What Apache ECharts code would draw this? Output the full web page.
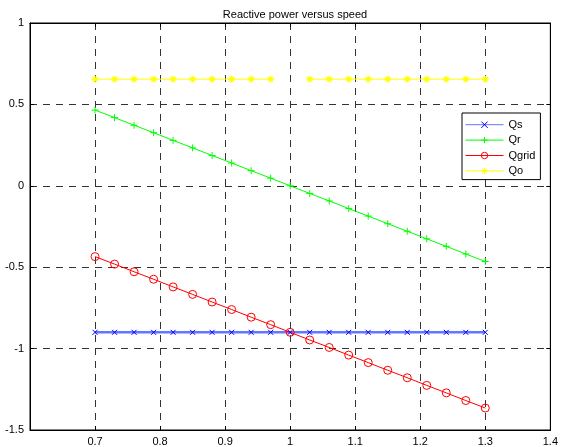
<!DOCTYPE html>
<html><head><meta charset="utf-8">
<script src="https://cdn.jsdelivr.net/npm/echarts@6/dist/echarts.min.js"></script>
<style>html,body{margin:0;padding:0;background:#fff}#c{width:561px;height:447px}</style>
</head><body><div id="c"></div>
<script>
var speeds = [0.7,0.73,0.76,0.79,0.82,0.85,0.88,0.91,0.94,0.97,1.0,1.03,1.06,1.09,1.12,1.15,1.18,1.21,1.24,1.27,1.3];
var Qs = [-0.9,-0.9,-0.9,-0.9,-0.9,-0.9,-0.9,-0.9,-0.9,-0.9,-0.9,-0.9,-0.9,-0.9,-0.9,-0.9,-0.9,-0.9,-0.9,-0.9,-0.9];
var Qr = [0.465,0.419,0.372,0.326,0.279,0.233,0.186,0.140,0.093,0.047,0,-0.047,-0.093,-0.140,-0.186,-0.233,-0.279,-0.326,-0.372,-0.419,-0.465];
var Qgrid = [-0.435,-0.481,-0.528,-0.574,-0.621,-0.667,-0.714,-0.760,-0.807,-0.853,-0.9,-0.947,-0.993,-1.040,-1.086,-1.133,-1.179,-1.226,-1.272,-1.319,-1.365];
var Qo = [0.655,0.655,0.655,0.655,0.655,0.655,0.655,0.655,0.655,0.655,null,0.655,0.655,0.655,0.655,0.655,0.655,0.655,0.655,0.655,0.655];
var xTicks = ['0.7','0.8','0.9','1','1.1','1.2','1.3','1.4'];
var yTicks = ['-1.5','-1','-0.5','0','0.5','1'];

function pairs(ys){ return speeds.map(function(x,i){ return [x, ys[i]==null ? '-' : ys[i]]; }); }
var FONT = 'Liberation Sans, Arial, sans-serif';
var grid = {type:[7,6], color:'#333', width:1};
var chart = echarts.init(document.getElementById('c'));
chart.setOption({
  backgroundColor:'#fff',
  animation:false,
  title:{text:'Reactive power versus speed', left:290, top:4, textAlign:'center',
    textStyle:{fontSize:11, fontWeight:'normal', color:'#000', fontFamily:FONT}},
  grid:{left:30, right:10, top:23, bottom:17, show:true, borderColor:'#000', borderWidth:1, backgroundColor:'#fff'},
  legend:{orient:'vertical', left:462, top:113, itemWidth:38, itemHeight:8, itemGap:4,
    padding:[6,5,3,3], backgroundColor:'#fff', borderColor:'#000', borderWidth:1, borderRadius:0,
    lineStyle:{width:1}, itemStyle:{borderWidth:1},
    textStyle:{fontSize:11, color:'#000', fontFamily:FONT},
    data:['Qs','Qr','Qgrid','Qo']},
  xAxis:[{type:'value', min:0.6, max:1.4, interval:0.1, position:'bottom',
    axisLine:{show:true, onZero:false, lineStyle:{color:'#000'}},
    axisTick:{show:true, inside:true, length:4, lineStyle:{color:'#000'}},
    axisLabel:{color:'#000', fontSize:11, fontFamily:FONT, margin:6, showMinLabel:false,
      formatter:function(v){ var s=(Math.round(v*10)/10).toString(); return xTicks.indexOf(s)>=0?s:''; }},
    splitLine:{show:true, lineStyle:grid}},
   {type:'value', min:0.6, max:1.4, interval:0.1, position:'top',
    axisLine:{show:true, onZero:false, lineStyle:{color:'#000'}},
    axisTick:{show:true, inside:true, length:4, lineStyle:{color:'#000'}},
    axisLabel:{show:false}, splitLine:{show:false}}],
  yAxis:[{type:'value', min:-1.5, max:1, interval:0.5, position:'left',
    axisLine:{show:true, onZero:false, lineStyle:{color:'#000'}},
    axisTick:{show:true, inside:true, length:4, lineStyle:{color:'#000'}},
    axisLabel:{color:'#000', fontSize:11, fontFamily:FONT, margin:6,
      formatter:function(v){ var s=(Math.round(v*10)/10).toString(); return yTicks.indexOf(s)>=0?s:''; }},
    splitLine:{show:true, lineStyle:grid}},
   {type:'value', min:-1.5, max:1, interval:0.5, position:'right',
    axisLine:{show:true, onZero:false, lineStyle:{color:'#000'}},
    axisTick:{show:true, inside:true, length:4, lineStyle:{color:'#000'}},
    axisLabel:{show:false}, splitLine:{show:false}}],
  series:[
    {name:'Qs', type:'line', data:pairs(Qs), symbol:'path://M0,0L10,10M10,0L0,10', symbolSize:5,
     lineStyle:{color:'#6677ff', width:2.5}, itemStyle:{color:'none', borderColor:'#0000ff', borderWidth:1}},
    {name:'Qr', type:'line', data:pairs(Qr), symbol:'path://M5,0L5,10M0,5L10,5', symbolSize:7,
     lineStyle:{color:'#00ff00', width:1}, itemStyle:{color:'none', borderColor:'#00ff00', borderWidth:1}},
    {name:'Qgrid', type:'line', data:pairs(Qgrid), symbol:'circle', symbolSize:8,
     lineStyle:{color:'#ff0000', width:1}, itemStyle:{color:'none', borderColor:'#ff0000', borderWidth:1}},
    {name:'Qo', type:'line', data:pairs(Qo), connectNulls:false,
     symbol:'path://M5,0L5,10M0,5L10,5M1.5,1.5L8.5,8.5M8.5,1.5L1.5,8.5', symbolSize:7,
     lineStyle:{color:'#ffff00', width:1}, itemStyle:{color:'none', borderColor:'#ffff00', borderWidth:1.2}}
  ]
});
</script></body></html>
